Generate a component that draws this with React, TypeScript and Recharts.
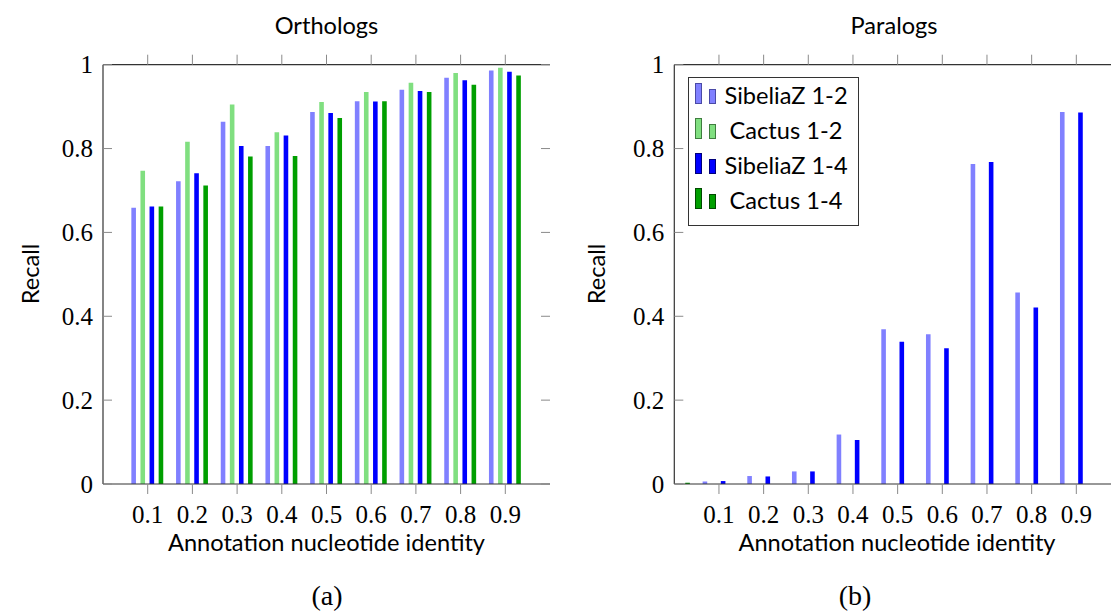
import { Bar, BarChart, Legend, XAxis, YAxis } from "recharts";

const SANS = "Lato, 'DejaVu Sans', sans-serif";
const SERIF = "'Liberation Serif', 'DejaVu Serif', serif";
const AXIS_COLOR = "#333";
const TICK_COLOR = "#8a8a8a";
const SANS_SIZE = 23.6;

// identity bins shown as tick labels
const identityBins = ["0.1", "0.2", "0.3", "0.4", "0.5", "0.6", "0.7", "0.8", "0.9"];
// the paralog panel also has a 0.0 bin that sits on the left frame
const paralogBins = ["0.0", ...identityBins];
const recallTicks = [0, 0.2, 0.4, 0.6, 0.8, 1];

const orthoSibeliaz12 = [0.659, 0.722, 0.864, 0.806, 0.887, 0.913, 0.94, 0.969, 0.986];
const orthoCactus12 = [0.747, 0.816, 0.905, 0.839, 0.911, 0.935, 0.957, 0.98, 0.993];
const orthoSibeliaz14 = [0.662, 0.741, 0.806, 0.831, 0.885, 0.912, 0.937, 0.963, 0.983];
const orthoCactus14 = [0.662, 0.712, 0.781, 0.782, 0.873, 0.913, 0.935, 0.952, 0.974];

const paraSibeliaz12 = [0, 0.006, 0.019, 0.03, 0.118, 0.369, 0.357, 0.763, 0.457, 0.887];
const paraCactus12 = [0, 0, 0, 0, 0, 0, 0, 0, 0, 0];
const paraSibeliaz14 = [0, 0.007, 0.018, 0.03, 0.105, 0.339, 0.324, 0.768, 0.421, 0.886];
const paraCactus14 = [0.003, 0, 0, 0, 0, 0, 0, 0, 0, 0];

const series = [
  { key: "sibeliaz12", name: "SibeliaZ 1-2", color: "#8080ff", edge: "#4a4aa6" },
  { key: "cactus12", name: "Cactus 1-2", color: "#80df80", edge: "#3f7d3f" },
  { key: "sibeliaz14", name: "SibeliaZ 1-4", color: "#0000ff", edge: "#00007a" },
  { key: "cactus14", name: "Cactus 1-4", color: "#009f00", edge: "#004a00" },
];

function toRows(bins: string[], s12: number[], c12: number[], s14: number[], c14: number[]) {
  return bins.map((bin, i) => ({
    bin,
    sibeliaz12: s12[i],
    cactus12: c12[i],
    sibeliaz14: s14[i],
    cactus14: c14[i],
  }));
}

const orthoRows = toRows(identityBins, orthoSibeliaz12, orthoCactus12, orthoSibeliaz14, orthoCactus14);
const paraRows = toRows(paralogBins, paraSibeliaz12, paraCactus12, paraSibeliaz14, paraCactus14);

const CHART_H = 530;
const BAND_PAD = 22.35;

function LegendBox() {
  return (
    <div
      style={{
        width: 171,
        height: 149,
        border: "1px solid #333",
        background: "#fff",
        boxSizing: "border-box",
        position: "relative",
      }}
    >
      {series.map((s, i) => (
        <div key={s.key} style={{ position: "absolute", left: 0, top: 5 + i * 35, width: "100%", height: 28 }}>
          <svg width={30} height={28} style={{ position: "absolute", left: 6, top: 0 }}>
            <rect x={0.5} y={0.5} width={6} height={20} fill={s.color} stroke={s.edge} />
            <rect x={14.5} y={6.5} width={6} height={14} fill={s.color} stroke={s.edge} />
          </svg>
          <span
            style={{
              position: "absolute",
              left: 33,
              width: 128,
              top: -2,
              textAlign: "center",
              fontFamily: SANS,
              fontSize: SANS_SIZE,
              lineHeight: "28px",
              color: "#000",
              whiteSpace: "nowrap",
            }}
          >
            {s.name}
          </span>
        </div>
      ))}
    </div>
  );
}

type PanelProps = {
  data: ReturnType<typeof toRows>;
  left: number;
  width: number;
  frameLeft: number;
  padLeft: number;
  withLegend?: boolean;
};

function RecallPanel({ data, left, width, frameLeft, padLeft, withLegend }: PanelProps) {
  const frameRight = width - 10;
  // y tick: label outside, short marks pointing into the frame on both sides
  const yTick = (props: any) => {
    const { x, y, payload } = props;
    return (
      <g>
        <line x1={frameLeft} x2={frameLeft + 9} y1={y} y2={y} stroke={TICK_COLOR} />
        <line x1={frameRight - 9} x2={frameRight} y1={y} y2={y} stroke={TICK_COLOR} />
        <text x={x} y={y} dy="0.34em" textAnchor="end" fontFamily={SERIF} fontSize={25} fill="#000">
          {String(payload.value)}
        </text>
      </g>
    );
  };
  const frameLine = { stroke: AXIS_COLOR, strokeWidth: 1.2 };
  return (
    <div style={{ position: "absolute", left, top: 0 }}>
      <BarChart
        width={width}
        height={CHART_H}
        data={data}
        margin={{ top: 53.7, right: 10, bottom: 0, left: frameLeft - 100 }}
        barGap={4.5}
      >
        <XAxis
          xAxisId="top"
          orientation="top"
          dataKey="bin"
          height={11}
          padding={{ left: padLeft, right: BAND_PAD }}
          ticks={identityBins}
          tickSize={10}
          tickLine={{ stroke: TICK_COLOR }}
          axisLine={frameLine}
          tick={() => <g />}
        />
        <XAxis
          xAxisId="bottom"
          dataKey="bin"
          height={46}
          padding={{ left: padLeft, right: BAND_PAD }}
          ticks={identityBins}
          tickSize={10}
          tickMargin={11}
          tickLine={{ stroke: TICK_COLOR }}
          axisLine={frameLine}
          tick={{ fontFamily: SERIF, fontSize: 25, fill: "#000" }}
        />
        <YAxis
          yAxisId="left"
          type="number"
          domain={[0, 1]}
          ticks={recallTicks}
          width={100}
          tickLine={false}
          tickSize={0}
          tickMargin={10}
          axisLine={frameLine}
          tick={yTick}
        />
        <YAxis
          yAxisId="right"
          orientation="right"
          type="number"
          domain={[0, 1]}
          width={0}
          tick={false}
          tickLine={false}
          axisLine={frameLine}
        />
        {series.map((s) => (
          <Bar
            key={s.key}
            xAxisId="bottom"
            yAxisId="left"
            dataKey={s.key}
            name={s.name}
            fill={s.color}
            barSize={4.6}
            isAnimationActive={false}
          />
        ))}
        {withLegend && (
          <Legend
            layout="vertical"
            align="center"
            verticalAlign="middle"
            wrapperStyle={{ left: 128, top: 77, width: 171, height: 149 }}
            content={() => <LegendBox />}
          />
        )}
      </BarChart>
    </div>
  );
}

export default function App() {
  return (
    <div
      style={{
        position: "absolute",
        left: 0,
        top: 0,
        width: 1111,
        height: 611,
        overflow: "hidden",
        background: "#fff",
      }}
    >
      <RecallPanel data={orthoRows} left={0} width={560} frameLeft={103} padLeft={BAND_PAD} />
      <RecallPanel data={paraRows} left={560} width={571} frameLeft={114.3} padLeft={-BAND_PAD} withLegend />
      <svg
        width={1111}
        height={611}
        style={{ position: "absolute", left: 0, top: 0, pointerEvents: "none" }}
      >
        <g fontFamily={SANS} fontSize={SANS_SIZE} fill="#000" textAnchor="middle">
          <text x={326.5} y={34}>Orthologs</text>
          <text x={894} y={34}>Paralogs</text>
          <text x={326.5} y={551}>Annotation nucleotide identity</text>
          <text x={897} y={551}>Annotation nucleotide identity</text>
          <text transform="translate(39,274) rotate(-90)">Recall</text>
          <text transform="translate(605,274) rotate(-90)">Recall</text>
        </g>
        <g fontFamily={SERIF} fontSize={28} fill="#000" textAnchor="middle">
          <text x={327} y={605}>(a)</text>
          <text x={855} y={605}>(b)</text>
        </g>
      </svg>
    </div>
  );
}
